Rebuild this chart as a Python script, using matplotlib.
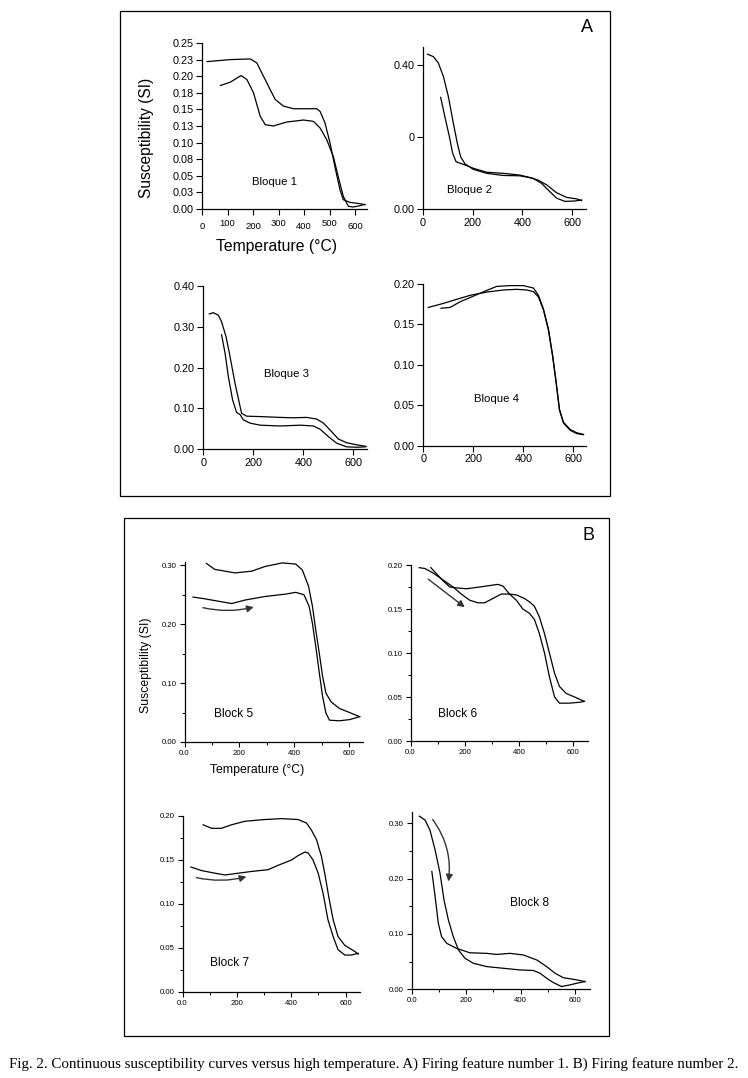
import matplotlib
matplotlib.use("Agg")
import matplotlib.pyplot as plt
from matplotlib.patches import Rectangle

plt.rcParams["font.family"] = ["Liberation Sans", "DejaVu Sans"]

W, H = 748, 1078

# ---- Bloque 1 ----
b1_up_t = [20, 111, 189, 215, 241, 267, 287, 319, 359, 411, 450, 463, 482, 502, 521, 541, 554, 580, 619, 639]
b1_up_k = [0.222, 0.225, 0.226, 0.220, 0.200, 0.180, 0.165, 0.155, 0.151, 0.151, 0.151, 0.147, 0.130, 0.0995,
           0.064, 0.029, 0.014, 0.010, 0.008, 0.0065]
b1_lo_t = [72, 111, 153, 176, 202, 228, 248, 280, 332, 398, 437, 463, 489, 515, 534, 554, 574, 593, 619, 639]
b1_lo_k = [0.186, 0.191, 0.201, 0.195, 0.175, 0.140, 0.127, 0.125, 0.131, 0.134, 0.132, 0.122, 0.1045, 0.079,
           0.049, 0.019, 0.004, 0.003, 0.005, 0.007]

# ---- Bloque 2 ----
b2_up_t = [19, 43, 63, 83, 103, 123, 139, 152, 170, 203, 256, 323, 390, 430, 463, 497, 537, 577, 617, 637]
b2_up_k = [0.431, 0.424, 0.406, 0.369, 0.313, 0.239, 0.183, 0.146, 0.126, 0.111, 0.100, 0.094, 0.093, 0.088,
           0.081, 0.068, 0.046, 0.033, 0.029, 0.024]
b2_lo_t = [72, 89, 107, 120, 134, 170, 203, 256, 323, 390, 443, 477, 510, 537, 570, 610, 637]
b2_lo_k = [0.311, 0.257, 0.202, 0.156, 0.132, 0.123, 0.114, 0.103, 0.100, 0.095, 0.086, 0.072, 0.049, 0.031,
           0.022, 0.023, 0.026]

# ---- Bloque 3 ----
b3_up_t = [24, 40, 60, 73, 91, 107, 127, 144, 153, 173, 227, 307, 360, 413, 453, 480, 507, 540, 573, 613, 651]
b3_up_k = [0.331, 0.334, 0.328, 0.312, 0.275, 0.226, 0.161, 0.113, 0.088, 0.081, 0.080, 0.078, 0.077, 0.078,
           0.074, 0.064, 0.047, 0.025, 0.016, 0.011, 0.007]
b3_lo_t = [73, 87, 100, 117, 133, 147, 160, 187, 227, 307, 387, 440, 467, 500, 533, 573, 613, 647]
b3_lo_k = [0.280, 0.235, 0.178, 0.121, 0.090, 0.085, 0.072, 0.064, 0.059, 0.057, 0.059, 0.057, 0.049, 0.031,
           0.015, 0.006, 0.005, 0.006]

# ---- Bloque 4 ----
b4_a_t = [20, 80, 133, 187, 253, 320, 373, 413, 440, 460, 480, 500, 517, 531, 544, 560, 587, 613, 640]
b4_a_k = [0.171, 0.176, 0.181, 0.186, 0.190, 0.1926, 0.1934, 0.1926, 0.1905, 0.184, 0.168, 0.143, 0.110, 0.077,
          0.044, 0.028, 0.019, 0.015, 0.0136]
b4_b_t = [71, 107, 147, 200, 253, 293, 347, 400, 440, 460, 480, 500, 517, 531, 544, 560, 587, 613, 640]
b4_b_k = [0.170, 0.171, 0.178, 0.185, 0.192, 0.197, 0.198, 0.198, 0.195, 0.186, 0.169, 0.144, 0.111, 0.078,
          0.045, 0.029, 0.020, 0.016, 0.014]

# ---- Block 5 ----
b5_up_t = [80, 110, 184, 245, 294, 356, 405, 429, 452, 466, 478, 491, 503, 515, 534, 564, 601, 638]
b5_up_k = [0.303, 0.293, 0.287, 0.290, 0.298, 0.304, 0.302, 0.292, 0.264, 0.230, 0.190, 0.150, 0.111, 0.083,
           0.068, 0.057, 0.050, 0.043]
b5_lo_t = [31, 74, 135, 172, 221, 294, 368, 405, 435, 454, 466, 478, 491, 503, 515, 528, 564, 601, 638]
b5_lo_k = [0.246, 0.243, 0.238, 0.235, 0.241, 0.247, 0.251, 0.254, 0.250, 0.230, 0.201, 0.162, 0.117, 0.077,
           0.049, 0.037, 0.036, 0.038, 0.043]

# ---- Block 6 ----
b6_a_t = [32, 53, 83, 120, 157, 187, 218, 249, 273, 304, 335, 365, 390, 420, 439, 457, 475, 494, 512, 531, 549,
          574, 605, 641]
b6_a_k = [0.197, 0.196, 0.191, 0.183, 0.175, 0.167, 0.160, 0.157, 0.157, 0.162, 0.167, 0.167, 0.166, 0.162,
          0.158, 0.153, 0.141, 0.122, 0.100, 0.077, 0.062, 0.054, 0.050, 0.045]
b6_b_t = [75, 96, 120, 145, 169, 206, 255, 322, 341, 365, 390, 414, 439, 457, 475, 494, 512, 531, 549, 586, 623, 641]
b6_b_k = [0.197, 0.190, 0.182, 0.175, 0.174, 0.173, 0.175, 0.178, 0.176, 0.167, 0.160, 0.150, 0.145, 0.138,
          0.122, 0.100, 0.073, 0.050, 0.043, 0.043, 0.044, 0.045]

# ---- Block 7 ----
b7_up_t = [76, 107, 143, 180, 229, 303, 364, 425, 456, 474, 493, 511, 523, 538, 554, 572, 597, 634, 646]
b7_up_k = [0.190, 0.186, 0.186, 0.190, 0.194, 0.196, 0.197, 0.196, 0.192, 0.184, 0.173, 0.154, 0.135, 0.108,
           0.082, 0.063, 0.053, 0.046, 0.043]
b7_lo_t = [31, 70, 119, 156, 205, 254, 315, 352, 401, 425, 450, 462, 480, 499, 517, 535, 554, 572, 597, 621, 646]
b7_lo_k = [0.142, 0.138, 0.135, 0.133, 0.135, 0.137, 0.139, 0.144, 0.150, 0.155, 0.159, 0.158, 0.150, 0.135,
           0.112, 0.082, 0.063, 0.048, 0.042, 0.042, 0.044]

# ---- Block 8 ----
b8_a_t = [28, 49, 67, 86, 104, 119, 135, 153, 172, 196, 227, 276, 337, 398, 447, 472, 496, 521, 551, 582, 607, 637]
b8_a_k = [0.313, 0.306, 0.288, 0.252, 0.210, 0.161, 0.125, 0.095, 0.071, 0.056, 0.047, 0.041, 0.038, 0.035,
          0.034, 0.029, 0.020, 0.012, 0.005, 0.008, 0.011, 0.014]
b8_b_t = [74, 86, 98, 110, 129, 165, 214, 276, 312, 361, 411, 460, 496, 527, 557, 607, 637]
b8_b_k = [0.213, 0.168, 0.119, 0.095, 0.083, 0.074, 0.066, 0.065, 0.063, 0.065, 0.062, 0.053, 0.041, 0.029,
          0.021, 0.017, 0.014]

# arrows (tail, head) in data units
b5_arrow = [(67, 0.228), (252, 0.229)]
b6_arrow = [(65, 0.184), (200, 0.152)]
b7_arrow = [(51, 0.130), (235, 0.131)]
b8_arrow = [(77, 0.307), (135, 0.195)]

# tick values / labels
b1_yticks = [0, 0.025, 0.05, 0.075, 0.10, 0.125, 0.15, 0.175, 0.20, 0.225, 0.25]
b1_ylabels = ["0.00", "0.03", "0.05", "0.08", "0.10", "0.13", "0.15", "0.18", "0.20", "0.23", "0.25"]
b2_yticks = [0, 0.2, 0.4]
b2_ylabels = ["0.00", "0", "0.40"]

caption = ("Fig. 2. Continuous susceptibility curves versus high temperature. "
           "A) Firing feature number 1. B) Firing feature number 2.")


def rect(left, right, top, bottom):
    return [left / W, 1 - bottom / H, (right - left) / W, (bottom - top) / H]


def base_style(ax, fs, length):
    ax.spines[["top", "right"]].set_visible(False)
    for s in ("left", "bottom"):
        ax.spines[s].set_linewidth(0.9)
    ax.tick_params(direction="out", length=length, width=0.8, labelsize=fs, pad=2)


def curves(ax, pairs):
    for t, k in pairs:
        ax.plot(t, k, color="black", lw=0.9, solid_joinstyle="round")


def arrow(ax, pts, rad):
    (x0, y0), (x1, y1) = pts
    ax.annotate("", xy=(x1, y1), xytext=(x0, y0),
                arrowprops=dict(arrowstyle="-|>", color="#333333", lw=1.0,
                                mutation_scale=10, shrinkA=0, shrinkB=0,
                                connectionstyle=f"arc3,rad={rad}"))


def ftext(x, y, s, **kw):
    fig.text(x / W, 1 - y / H, s, ha="center", va="center", **kw)


fig = plt.figure(figsize=(W / 100, H / 100), dpi=100)

# panel frames
fig.patches.append(Rectangle((120 / W, 1 - 496 / H), 490 / W, 485 / H, transform=fig.transFigure,
                             fill=False, lw=0.9, ec="black"))
fig.patches.append(Rectangle((124 / W, 1 - 1036 / H), 485 / W, 518 / H, transform=fig.transFigure,
                             fill=False, lw=0.9, ec="black"))

# ---------------- Panel A ----------------
TA = 7.8
ax1 = fig.add_axes(rect(202, 367, 43, 209))
curves(ax1, [(b1_up_t, b1_up_k), (b1_lo_t, b1_lo_k)])
ax1.set_xlim(0, 647)
ax1.set_ylim(0, 0.25)
base_style(ax1, TA, 4)
ax1.set_xticks(range(0, 601, 100))
ax1.tick_params(axis="x", labelsize=6.8)
ax1.set_yticks(b1_yticks, b1_ylabels)
for i, tk in enumerate(ax1.xaxis.get_major_ticks()):
    tk.set_pad(3 if i % 2 else 5.5)

ax2 = fig.add_axes(rect(422.7, 586, 47.3, 209.3))
curves(ax2, [(b2_up_t, b2_up_k), (b2_lo_t, b2_lo_k)])
ax2.set_xlim(0, 655)
ax2.set_ylim(0, 0.45)
base_style(ax2, TA, 4)
ax2.set_xticks([0, 200, 400, 600])
ax2.set_yticks(b2_yticks, b2_ylabels)

ax3 = fig.add_axes(rect(203.3, 366.7, 285.7, 449.3))
curves(ax3, [(b3_up_t, b3_up_k), (b3_lo_t, b3_lo_k)])
ax3.set_xlim(0, 653)
ax3.set_ylim(0, 0.40)
base_style(ax3, TA, 4)
ax3.set_xticks([0, 200, 400, 600])
ax3.set_yticks([0, 0.1, 0.2, 0.3, 0.4], ["0.00", "0.10", "0.20", "0.30", "0.40"])

ax4 = fig.add_axes(rect(423.3, 586, 284, 445.7))
curves(ax4, [(b4_a_t, b4_a_k), (b4_b_t, b4_b_k)])
ax4.set_xlim(0, 650)
ax4.set_ylim(0, 0.20)
base_style(ax4, TA, 4)
ax4.set_xticks([0, 200, 400, 600])
ax4.set_yticks([0, 0.05, 0.1, 0.15, 0.2], ["0.00", "0.05", "0.10", "0.15", "0.20"])

ftext(275, 182, "Bloque 1", fontsize=8.2)
ftext(470, 190, "Bloque 2", fontsize=8.2)
ftext(286, 374, "Bloque 3", fontsize=8.2)
ftext(496, 399, "Bloque 4", fontsize=8.2)
ftext(147, 138, "Susceptibility (SI)", fontsize=11.2, rotation=90)
ftext(276, 246, "Temperature (\u00b0C)", fontsize=11.3)
ftext(587, 27, "A", fontsize=13)

# ---------------- Panel B ----------------
def style_b(ax, ymajor, ylabels, yminor):
    base_style(ax, 5.6, 3.5)
    ax.tick_params(which="minor", direction="out", length=2.5, width=0.7)
    ax.set_xticks([0, 200, 400, 600], ["0.0", "200", "400", "600"])
    ax.set_xticks([100, 300, 500], minor=True)
    ax.set_yticks(ymajor, ylabels)
    ax.set_yticks(yminor, minor=True)


ax5 = fig.add_axes(rect(184.5, 363, 562.3, 742))
curves(ax5, [(b5_up_t, b5_up_k), (b5_lo_t, b5_lo_k)])
arrow(ax5, b5_arrow, 0.12)
ax5.set_xlim(0, 650)
ax5.set_ylim(0, 0.305)
style_b(ax5, [0, 0.1, 0.2, 0.3], ["0.00", "0.10", "0.20", "0.30"], [0.05, 0.15, 0.25])

ax6 = fig.add_axes(rect(410.5, 588.2, 565, 741))
curves(ax6, [(b6_a_t, b6_a_k), (b6_b_t, b6_b_k)])
arrow(ax6, b6_arrow, 0.0)
ax6.set_xlim(0, 655)
ax6.set_ylim(0, 0.20)
style_b(ax6, [0, 0.05, 0.1, 0.15, 0.2], ["0.00", "0.05", "0.10", "0.15", "0.20"],
        [0.025, 0.075, 0.125, 0.175])

ax7 = fig.add_axes(rect(182.5, 359.8, 816, 992))
curves(ax7, [(b7_up_t, b7_up_k), (b7_lo_t, b7_lo_k)])
arrow(ax7, b7_arrow, 0.12)
ax7.set_xlim(0, 652)
ax7.set_ylim(0, 0.20)
style_b(ax7, [0, 0.05, 0.1, 0.15, 0.2], ["0.00", "0.05", "0.10", "0.15", "0.20"],
        [0.025, 0.075, 0.125, 0.175])

ax8 = fig.add_axes(rect(411.7, 589.9, 812.3, 989.3))
curves(ax8, [(b8_a_t, b8_a_k), (b8_b_t, b8_b_k)])
arrow(ax8, b8_arrow, -0.2)
ax8.set_xlim(0, 655)
ax8.set_ylim(0, 0.32)
style_b(ax8, [0, 0.1, 0.2, 0.3], ["0.00", "0.10", "0.20", "0.30"], [0.05, 0.15, 0.25])

ftext(234, 714, "Block 5", fontsize=8.6)
ftext(458, 714, "Block 6", fontsize=8.6)
ftext(230, 963, "Block 7", fontsize=8.6)
ftext(530, 903, "Block 8", fontsize=8.6)
ftext(146, 665, "Susceptibility (SI)", fontsize=8.8, rotation=90)
ftext(257, 770, "Temperature (\u00b0C)", fontsize=8.8)
ftext(589, 536, "B", fontsize=13)

# caption
ftext(374, 1064, caption, fontsize=10.8, family=["Liberation Serif", "DejaVu Serif"])

fig.savefig("out.png", dpi=100)
